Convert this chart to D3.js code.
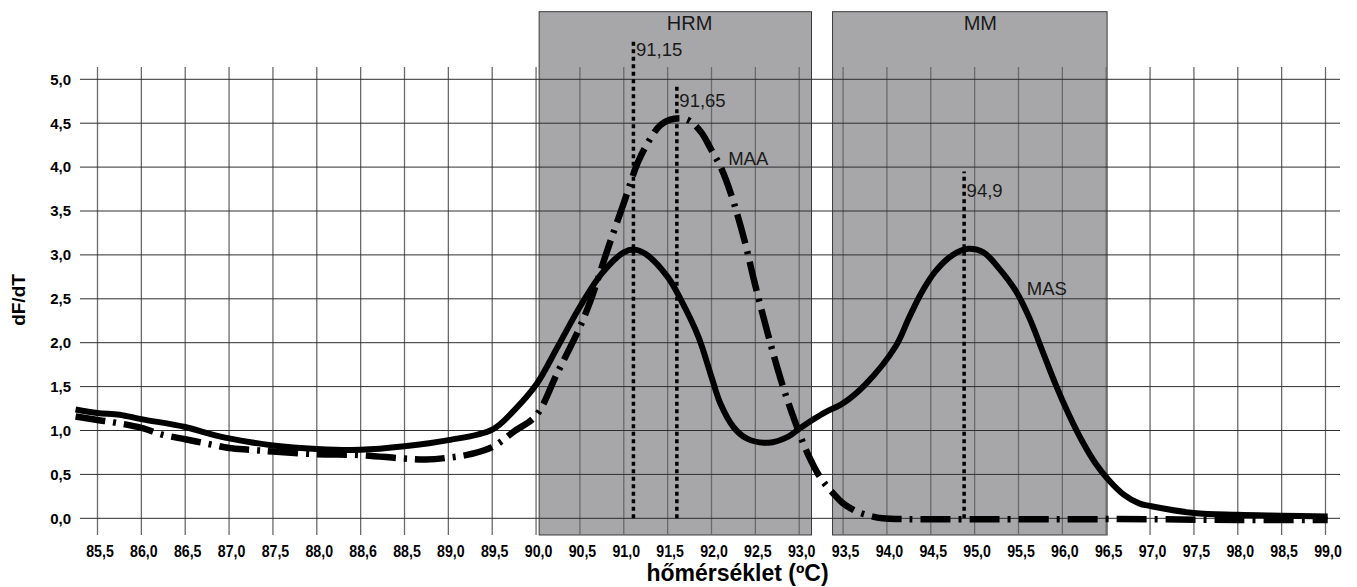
<!DOCTYPE html>
<html>
<head>
<meta charset="utf-8">
<script src="https://cdn.jsdelivr.net/npm/d3@7"></script>
<style>
  html, body { margin: 0; padding: 0; background: #fff; }
  svg { display: block; font-family: "Liberation Sans", Arial, sans-serif; }
</style>
</head>
<body>
<svg id="chart" width="1357" height="587"></svg>
<script>
// ---- Category axis (tick labels as printed in the original) ----
const categories = ["85,5","86,0","86,5","87,0","87,5","88,0","88,6","88,5","89,0","89,5",
  "90,0","90,5","91,0","91,5","92,0","92,5","93,0","93,5","94,0","94,5",
  "95,0","95,5","96,0","96,5","97,0","97,5","98,0","98,5","99,0"];
const yTicks = [0, 0.5, 1, 1.5, 2, 2.5, 3, 3.5, 4, 4.5, 5];

// ---- Series: x = position on the category axis (fractional index), y = dF/dT ----
const masX = [-0.5, 0, 0.5, 1, 2, 2.5, 3, 4, 5, 6, 7, 8, 9, 9.5, 10, 10.5, 11, 11.5, 12, 12.25,
  12.5, 13, 13.3, 13.7, 14, 14.2, 14.5, 14.8, 15.3, 15.75, 16, 16.3, 16.6, 17, 17.5, 18.2,
  18.5, 18.8, 19.1, 19.5, 19.85, 20.2, 20.55, 20.95, 21.25, 21.55, 21.85, 22.15, 22.45, 22.75,
  23.05, 23.4, 23.75, 24, 25, 26, 27, 28.05];
const masY = [1.24, 1.20, 1.18, 1.13, 1.04, 0.97, 0.91, 0.83, 0.79, 0.78, 0.82, 0.89, 1.01, 1.23,
  1.52, 1.96, 2.41, 2.79, 3.03, 3.06, 3.01, 2.75, 2.49, 2.07, 1.61, 1.31, 1.04, 0.91, 0.86, 0.93,
  1.02, 1.12, 1.21, 1.31, 1.52, 1.96, 2.28, 2.58, 2.81, 3.0, 3.07, 3.03, 2.85, 2.58, 2.28, 1.90,
  1.52, 1.18, 0.88, 0.63, 0.44, 0.27, 0.17, 0.14, 0.06, 0.04, 0.03, 0.02];

const maaX = [-0.5, 0, 0.4, 1, 1.5, 2, 2.5, 3, 3.5, 4, 5, 6, 7, 7.5, 8, 8.5, 9, 9.5, 10, 10.48,
  11, 11.25, 11.63, 12, 12.31, 12.54, 12.84, 13.15, 13.45, 13.76, 13.98, 14.21, 14.44, 14.75,
  14.97, 15.28, 15.58, 15.89, 16.19, 16.5, 16.8, 17.0, 17.3, 17.6, 17.9, 18.5, 20, 22, 24, 26, 28.05];
const maaY = [1.16, 1.12, 1.09, 1.03, 0.95, 0.90, 0.85, 0.80, 0.78, 0.76, 0.73, 0.72, 0.68, 0.67,
  0.69, 0.73, 0.81, 0.99, 1.17, 1.65, 2.18, 2.49, 3.06, 3.59, 4.04, 4.27, 4.48, 4.55, 4.54, 4.40,
  4.21, 4.0, 3.70, 3.17, 2.71, 2.11, 1.58, 1.12, 0.74, 0.45, 0.27, 0.17, 0.08, 0.03, 0.0, -0.01,
  -0.01, -0.01, -0.01, -0.02, -0.02];

// ---- Peak markers (dotted verticals) ----
const peakLabels = ["91,15", "91,65", "94,9"];
const peakPos    = [12.22, 13.21, 19.76];
const peakTop    = [5.44, 4.92, 3.95];
const peakLabelY = [5.26, 4.69, 3.66];

// ---- Series name labels ----
const seriesNames = ["MAA", "MAS"];
const seriesNameX = [14.38, 21.19];
const seriesNameY = [4.02, 2.54];

// ---- Shaded regions ----
const regionNames = ["HRM", "MM"];
const regionStart = [10.07, 16.76];
const regionEnd   = [16.28, 23.02];
const regionTitleX = [13.5, 20.13];

const xTitle = "hőmérséklet (ºC)";
const yTitle = "dF/dT";

// ---- Scales ----
const svg = d3.select("#chart");
const x = d3.scaleLinear().domain([0, categories.length - 1]).range([97.5, 1325.5]);
const y = d3.scaleLinear().domain([0, 5]).range([518.3, 79.3]);
const yBottom = -0.19, yTopGrid = 5.14, yTopRegion = 5.77, yRegionTitle = 5.56;

// ---- Shaded regions ----
svg.append("g").selectAll("rect").data(regionNames).join("rect")
  .attr("x", (d, i) => x(regionStart[i]))
  .attr("y", y(yTopRegion))
  .attr("width", (d, i) => x(regionEnd[i]) - x(regionStart[i]))
  .attr("height", y(yBottom) - y(yTopRegion))
  .attr("fill", "#a7a7a9")
  .attr("stroke", "#3a3a3a")
  .attr("stroke-width", 1);

svg.append("g").selectAll("text").data(regionNames).join("text")
  .attr("x", (d, i) => x(regionTitleX[i]))
  .attr("y", y(yRegionTitle))
  .attr("text-anchor", "middle")
  .attr("font-size", 20)
  .attr("fill", "#1a1a1a")
  .text(d => d);

// ---- Grid ----
const grid = svg.append("g");
grid.selectAll("line.v").data(categories).join("line")
  .attr("class", "v")
  .attr("x1", (d, i) => x(i)).attr("x2", (d, i) => x(i))
  .attr("y1", y(yTopGrid)).attr("y2", y(yBottom))
  .attr("stroke", "#6a6a6a").attr("stroke-width", 1.3);
grid.selectAll("line.h").data(yTicks).join("line")
  .attr("class", "h")
  .attr("x1", 80).attr("x2", 1340)
  .attr("y1", d => y(d)).attr("y2", d => y(d))
  .attr("stroke", "#2e2e2e").attr("stroke-width", 1);

// ---- Axis labels via d3 axes ----
const xAxis = d3.axisBottom(x)
  .tickValues(d3.range(categories.length))
  .tickFormat(i => categories[i])
  .tickSize(0).tickPadding(0);
const gx = svg.append("g").attr("transform", `translate(2, ${y(yBottom)})`).call(xAxis);
gx.select(".domain").remove();
gx.selectAll("text")
  .attr("dy", null).attr("y", 0)
  .attr("transform", "translate(0,22) scale(0.86,1)")
  .attr("font-family", "'Liberation Sans', Arial, sans-serif")
  .attr("font-size", 16.5).attr("font-weight", "bold").attr("fill", "#000");

const yAxis = d3.axisLeft(y).tickValues(yTicks)
  .tickFormat(d => d3.format(".1f")(d).replace(".", ","))
  .tickSize(0).tickPadding(0);
const gy = svg.append("g").attr("transform", "translate(71,0)").call(yAxis);
gy.select(".domain").remove();
gy.selectAll("text")
  .attr("font-family", "'Liberation Sans', Arial, sans-serif")
  .attr("font-size", 15).attr("font-weight", "bold").attr("fill", "#000");

// ---- Series ----
const line = d3.line().x(d => x(d[0])).y(d => y(d[1])).curve(d3.curveCatmullRom.alpha(0.5));

svg.append("path")
  .datum(maaX.map((v, i) => [v, maaY[i]]))
  .attr("d", line)
  .attr("fill", "none").attr("stroke", "#000")
  .attr("stroke-width", 6.5)
  .attr("stroke-dasharray", "30,8,3,8");

svg.append("path")
  .datum(masX.map((v, i) => [v, masY[i]]))
  .attr("d", line)
  .attr("fill", "none").attr("stroke", "#000")
  .attr("stroke-width", 6)
  .attr("stroke-linejoin", "round");

// ---- Peak dotted lines ----
svg.append("g").selectAll("line").data(peakLabels).join("line")
  .attr("x1", (d, i) => x(peakPos[i])).attr("x2", (d, i) => x(peakPos[i]))
  .attr("y1", y(0)).attr("y2", (d, i) => y(peakTop[i]))
  .attr("stroke", "#000").attr("stroke-width", 3.5)
  .attr("stroke-dasharray", "4,3.5");

svg.append("g").selectAll("text").data(peakLabels).join("text")
  .attr("x", (d, i) => x(peakPos[i]) + 2.5)
  .attr("y", (d, i) => y(peakLabelY[i]))
  .attr("font-size", 18.5).attr("fill", "#1a1a1a")
  .text(d => d);

svg.append("g").selectAll("text").data(seriesNames).join("text")
  .attr("x", (d, i) => x(seriesNameX[i]))
  .attr("y", (d, i) => y(seriesNameY[i]))
  .attr("font-size", 18.5).attr("fill", "#1a1a1a")
  .text(d => d);

// ---- Axis titles ----
svg.append("text")
  .attr("x", 737.5).attr("y", 581)
  .attr("text-anchor", "middle")
  .attr("font-size", 23).attr("font-weight", "bold")
  .text(xTitle);

svg.append("text")
  .attr("transform", "translate(25,300) rotate(-90)")
  .attr("text-anchor", "middle")
  .attr("font-size", 19).attr("font-weight", "bold")
  .text(yTitle);
</script>
</body>
</html>
